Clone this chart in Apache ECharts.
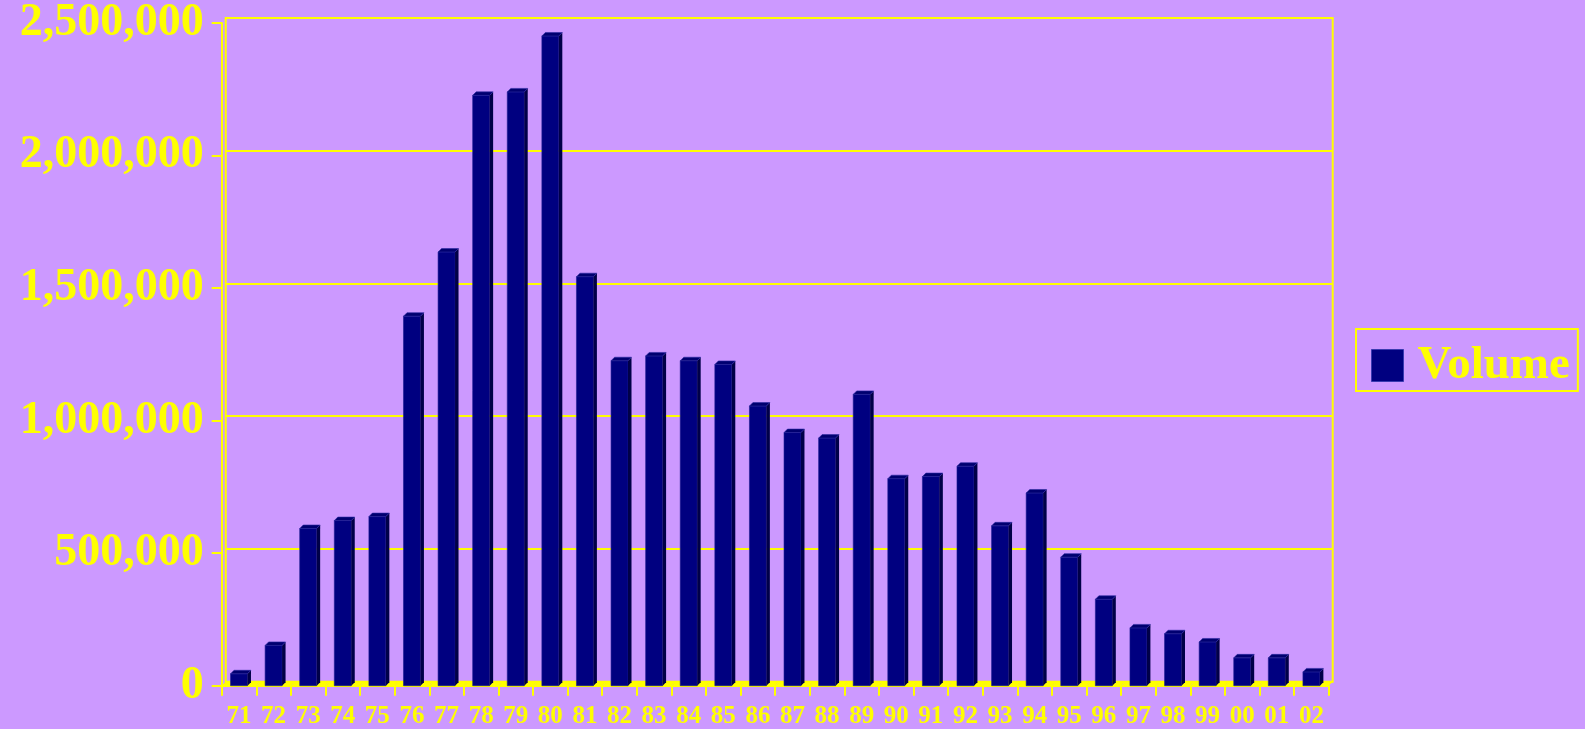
<!DOCTYPE html>
<html><head><meta charset="utf-8">
<script src="https://cdn.jsdelivr.net/npm/echarts@6/dist/echarts.min.js"></script>
<style>html,body{margin:0;padding:0;background:#cc99ff}#c{width:1585px;height:729px}</style>
</head><body><div id="c"></div><script>
const years = ['71','72','73','74','75','76','77','78','79','80','81','82','83','84','85','86','87','88','89','90','91','92','93','94','95','96','97','98','99','00','01','02'];
const volume = [45000,152000,593000,623000,638000,1394000,1636000,2227000,2240000,2451000,1543000,1226000,1244000,1226000,1212000,1055000,955000,934000,1099000,781000,789000,828000,603000,727000,485000,326000,218000,196000,165000,105000,105000,52000];
const yTickValues = [0,500000,1000000,1500000,2000000,2500000];
const yTickLabels = ['0','500,000','1,000,000','1,500,000','2,000,000','2,500,000'];
const seriesName = 'Volume';

const YEL = '#ffff00';
const FONT = "'Liberation Serif','Times New Roman',serif";
const chart = echarts.init(document.getElementById('c'), null, {renderer:'canvas'});

function renderItem(params, api) {
  const idx = api.value(0), v = api.value(1);
  const base = api.coord([idx, 0]);
  const top = api.coord([idx, v]);
  const band = api.size([1, 0])[0];
  const w = band * 0.49;
  const d = 3.5, D = 4;
  const x0 = base[0] - w / 2, x1 = base[0] + w / 2;
  const yb = base[1], yt = top[1];
  const fl = base[0] - band / 2, fr = base[0] + band / 2;
  return {
    type: 'group',
    children: [
      {type:'polygon', shape:{points:[[fl,yb],[fr,yb],[fr+D,yb-D],[fl+D,yb-D]]}, style:{fill:YEL}},
      {type:'rect', shape:{x:x0, y:yt, width:w, height:yb-yt}, style:{fill:'#000080', stroke:'#1c1c90', lineWidth:0.6}},
      {type:'polygon', shape:{points:[[x1,yt],[x1+d,yt-d],[x1+d,yb-d],[x1,yb]]}, style:{fill:'#000048'}},
      {type:'polygon', shape:{points:[[x0,yt],[x0+d,yt-d],[x1+d,yt-d],[x1,yt]]}, style:{fill:'#000070', stroke:'#2a2aa0', lineWidth:0.6}}
    ]
  };
}

chart.setOption({
  backgroundColor: '#cc99ff',
  animation: false,
  grid: [
    {left: 221.7, right: 256.3, top: 22, bottom: 43.3, containLabel: false},
    {left: 225.7, right: 252.3, top: 18, bottom: 47.3, show: true, borderColor: YEL, borderWidth: 2, backgroundColor: 'transparent', z: 0}
  ],
  legend: {
    data: [{name: seriesName, icon: 'rect'}],
    left: 1356, top: 329,
    orient: 'vertical',
    padding: [13, 8, 2, 15],
    borderColor: YEL, borderWidth: 2,
    itemWidth: 32, itemHeight: 32,
    itemStyle: {color: '#000080', borderColor: '#3a3ab0', borderWidth: 1},
    textStyle: {color: YEL, fontSize: 47, fontWeight: 'bold', fontFamily: FONT, padding: [3,0,0,9]}
  },
  xAxis: [
    {type: 'category', gridIndex: 0, data: years, boundaryGap: true,
     axisLine: {show: true, lineStyle: {color: YEL, width: 2}},
     axisTick: {show: true, length: 10, interval: 0, lineStyle: {color: YEL, width: 2}},
     axisLabel: {interval: 0, margin: 18, color: YEL, fontSize: 25, fontWeight: 'bold', fontFamily: FONT},
     splitLine: {show: false}},
    {type: 'category', gridIndex: 1, data: years, show: false}
  ],
  yAxis: [
    {type: 'value', gridIndex: 0, min: 0, max: 2500000, interval: 500000,
     axisLine: {show: true, lineStyle: {color: YEL, width: 2}},
     axisTick: {show: true, length: 10, lineStyle: {color: YEL, width: 2}},
     axisLabel: {margin: 18, color: YEL, fontSize: 46, fontWeight: 'bold', fontFamily: FONT,
       formatter: (v) => { const i = yTickValues.indexOf(v); return i >= 0 ? yTickLabels[i] : ''; }},
     splitLine: {show: false}},
    {type: 'value', gridIndex: 1, min: 0, max: 2500000, interval: 500000,
     axisLine: {show: false}, axisTick: {show: false}, axisLabel: {show: false},
     splitLine: {show: true, lineStyle: {color: YEL, width: 2}}}
  ],
  series: [{
    name: seriesName,
    type: 'custom',
    xAxisIndex: 0, yAxisIndex: 0,
    renderItem: renderItem,
    itemStyle: {color: '#000080'},
    encode: {x: 0, y: 1},
    data: volume.map((v, i) => [i, v]),
    z: 3
  }]
});
</script></body></html>
